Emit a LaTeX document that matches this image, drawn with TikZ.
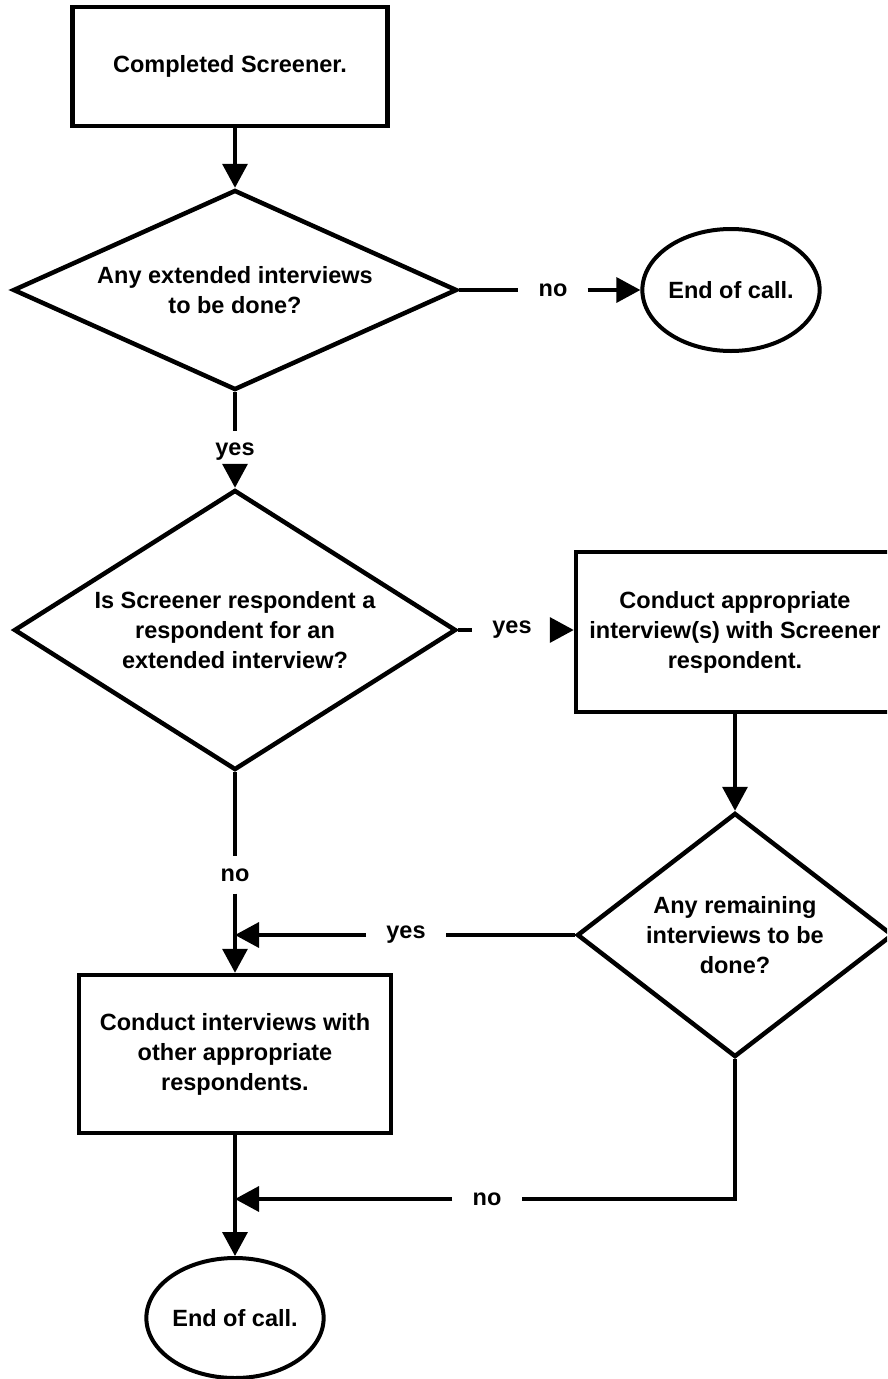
\documentclass[tikz,border=0pt]{standalone}
\usepackage{fontspec}
\setmainfont{Liberation Sans}
\usetikzlibrary{shapes.geometric,arrows.meta}
\begin{document}
\begin{tikzpicture}[x=1pt,y=-1pt,
  every node/.style={font=\bfseries\fontsize{23.5}{30}\selectfont, align=center},
  boxnode/.style={draw, rectangle, line width=4.5pt, inner sep=0pt},
  decnode/.style={draw, diamond, line width=4.5pt, inner sep=0pt},
  endnode/.style={draw, ellipse, line width=4pt, inner sep=0pt},
  lbl/.style={inner xsep=20pt, inner ysep=12pt},
  conn/.style={line width=3.5pt},
  arr/.style={conn, -{Triangle[length=24pt,width=25pt]}}
]
\fill[white] (0,0) rectangle (887,1379);
\useasboundingbox (0,0) rectangle (887,1379);
\clip (0,0) rectangle (887,1379);

\node[boxnode, minimum width=315pt, minimum height=119pt] (b1) at (230,66.5) {Completed Screener.};
\node[decnode, aspect=2.22, minimum width=444pt, minimum height=200pt] (d1) at (235,290) {Any extended interviews\\to be done?};
\node[endnode, minimum width=158pt, minimum height=122pt] (e1) at (731,290) {End of call.};
\node[lbl] (n1) at (553,290) {no};
\node[lbl] (y0) at (235,452) {yes};
\node[decnode, aspect=1.58, minimum width=442pt, minimum height=280pt] (d2) at (235,630) {Is Screener respondent a\\respondent for an\\extended interview?};
\node[lbl] (y1) at (512,630) {yes};
\node[boxnode, minimum width=318pt, minimum height=160pt] (b2) at (735,632) {Conduct appropriate\\interview(s) with Screener\\respondent.};
\node[decnode, aspect=1.3, minimum width=316pt, minimum height=244pt] (d3) at (735,935) {Any remaining\\interviews to be\\done?};
\node[lbl] (y2) at (406,935) {yes};
\node[lbl] (n2) at (235,875) {no};
\node[boxnode, minimum width=312pt, minimum height=158pt] (b3) at (235,1054) {Conduct interviews with\\other appropriate\\respondents.};
\node[lbl] (n3) at (487,1199) {no};
\node[endnode, minimum width=166pt, minimum height=120pt] (e2) at (235,1318) {End of call.};

\coordinate (j1) at (d2.south |- d3.west);
\coordinate (j2) at (b3.south |- n3);

\draw[arr] (b1.south -| d1.north) -- (d1.north);
\draw[conn] (d1.east) -- (n1.west);
\draw[arr] (n1.east) -- (e1.west);
\draw[conn] (d1.south) -- (y0.north);
\draw[arr] (y0.south) -- (d2.north);
\draw[conn] (d2.east) -- (y1.west);
\draw[arr] (y1.east) -- (y1.east -| b2.west);
\draw[arr] (b2.south) -- (d3.north);
\draw[conn] (d3.west) -- (y2.east);
\draw[arr] (y2.west) -- (j1);
\draw[conn] (d2.south) -- (n2.north);
\draw[arr] (n2.south) -- (b3.north);
\draw[conn] (d3.south) |- (n3.east);
\draw[arr] (n3.west) -- (j2);
\draw[arr] (b3.south) -- (e2.north);
\end{tikzpicture}
\end{document}
